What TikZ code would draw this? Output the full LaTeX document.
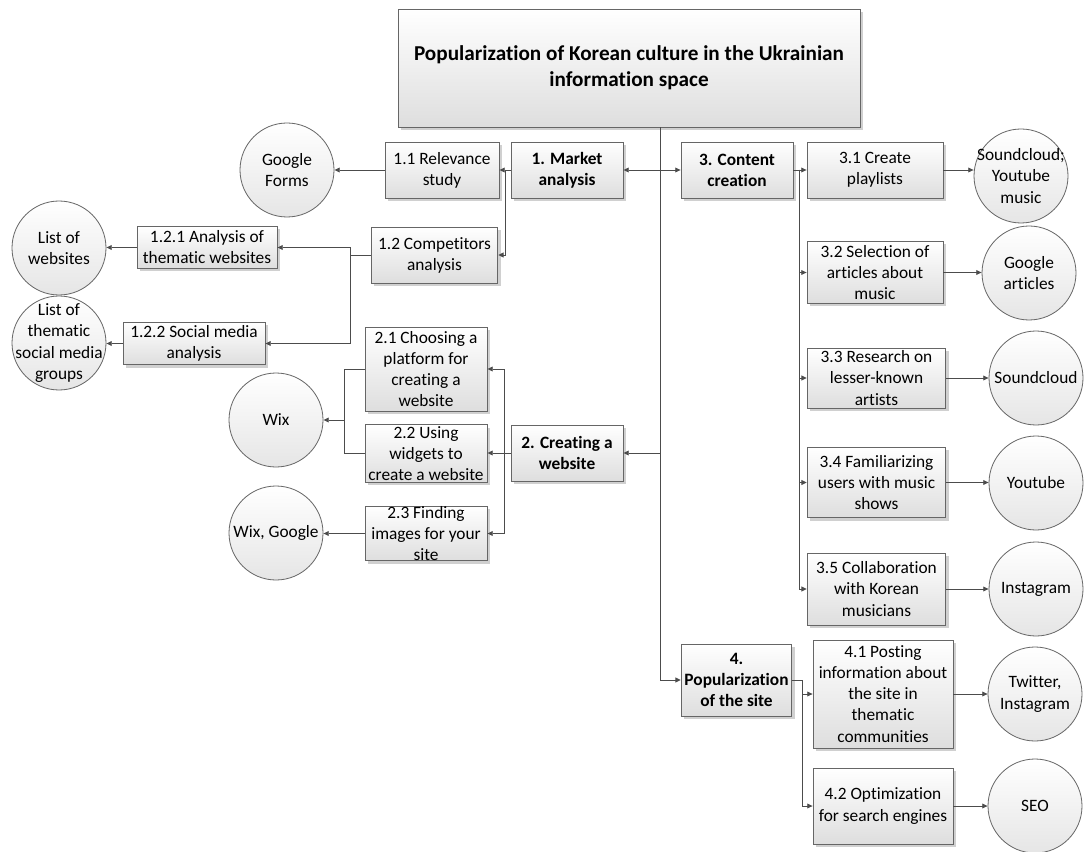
\documentclass[tikz,border=0pt]{standalone}
\usepackage{fontspec}
\setmainfont{Carlito}[Ligatures=NoCommon]
\usetikzlibrary{arrows.meta,shadows}
\tikzset{
  base/.style={draw=black!60, line width=0.6pt, top color=white, bottom color=black!13,
    align=center, inner sep=0pt, font=\fontsize{13}{15.8}\selectfont,
    drop shadow={shadow xshift=2pt, shadow yshift=-2pt, fill=black!30, opacity=0.6}},
  box/.style={base, rectangle},
  mbox/.style={box, font=\fontsize{13}{15.8}\selectfont\bfseries},
  btext/.style={align=center, font=\fontsize{13}{15.8}\selectfont, inner sep=0pt},
  circ/.style={draw=black!60, line width=0.6pt, circle, minimum size=70.5pt, inner sep=0pt,
    top color=white, bottom color=black!10},
  ctext/.style={align=center, font=\fontsize{13}{15.8}\selectfont, inner sep=0pt},
  conn/.style={draw=black!70, line width=0.7pt},
  arr/.style={conn, -{Triangle[length=4pt,width=3.6pt]}},
  arr2/.style={conn, {Triangle[length=4pt,width=3.6pt]}-{Triangle[length=4pt,width=3.6pt]}}
}
\begin{document}
\begin{tikzpicture}[x=0.75pt,y=-0.75pt]
\useasboundingbox[fill=white] (0,0) rectangle (1085,852);

% main title
\node[box, minimum width=346.5pt, minimum height=88.5pt, font=\fontsize{15.9}{19.5}\selectfont\bfseries] (title) at (629,68)
  {Popularization of Korean culture in the Ukrainian\\information space};

% level 1
\node[mbox, minimum width=84pt, minimum height=42pt] (m1) at (567,170) {1. Market\\analysis};
\node[mbox, minimum width=84pt, minimum height=42pt] (m3) at (737,170) {3. Content\\creation};
\node[mbox, minimum width=84pt, minimum height=42pt] (m2) at (567,453) {2. Creating a\\website};
\node[mbox, minimum width=83pt, minimum height=54pt] (m4) at (736.5,680) {4.\\Popularization\\of the site};

% branch 1
\node[box, minimum width=85.5pt, minimum height=42pt] (b11) at (442,170) {1.1 Relevance\\study};
\node[box, minimum width=95pt, minimum height=42pt] (b12) at (434.5,255) {1.2 Competitors\\analysis};
\node[box, minimum width=105pt, minimum height=31pt] (b121) at (207,247.5) {1.2.1 Analysis of\\thematic websites};
\node[box, minimum width=106.5pt, minimum height=32pt] (b122) at (194,343.5) {1.2.2 Social media\\analysis};

% branch 2
\node[box, minimum width=91.5pt, minimum height=63pt, label={[btext]center:2.1 Choosing a\\platform for\\creating a\\website}] (b21) at (426,369) {};
\node[box, minimum width=91.5pt, minimum height=43pt, label={[btext]center:2.2 Using\\widgets to\\create a website}] (b22) at (426,453.5) {};
\node[box, minimum width=91.5pt, minimum height=41pt, label={[btext]center:2.3 Finding\\images for your\\site}] (b23) at (426,533.5) {};

% branch 3
\node[box, minimum width=102pt, minimum height=42pt] (b31) at (875,170) {3.1 Create\\playlists};
\node[box, minimum width=102pt, minimum height=46pt, label={[btext]center:3.2 Selection of\\articles about\\music}] (b32) at (875,272.5) {};
\node[box, minimum width=104pt, minimum height=45pt, label={[btext]center:3.3 Research on\\lesser-known\\artists}] (b33) at (876.5,378) {};
\node[box, minimum width=104pt, minimum height=53pt] (b34) at (876.5,482.5) {3.4 Familiarizing\\users with music\\shows};
\node[box, minimum width=104pt, minimum height=54pt] (b35) at (876.5,589) {3.5 Collaboration\\with Korean\\musicians};

% branch 4
\node[box, minimum width=105pt, minimum height=81pt] (b41) at (883,694) {4.1 Posting\\information about\\the site in\\thematic\\communities};
\node[box, minimum width=105pt, minimum height=57pt] (b42) at (883,806) {4.2 Optimization\\for search engines};

% tools (circles)
\node[circ, label={[ctext]center:Google\\Forms}] (cGF) at (287,170) {};
\node[circ, label={[ctext]center:List of\\websites}] (cLW) at (59,248) {};
\node[circ, label={[ctext]center:List of\\thematic\\social media\\groups}] (cLS) at (59,343) {};
\node[circ, label={[ctext]center:Wix}] (cWix) at (276,420) {};
\node[circ, label={[ctext]center:Wix, Google}] (cWG) at (276,533) {};
\node[circ, label={[ctext]center:Soundcloud;\\Youtube\\music}] (cSY) at (1021,176) {};
\node[circ, label={[ctext]center:Google\\articles}] (cGA) at (1029,273) {};
\node[circ, label={[ctext]center:Soundcloud}] (cSC) at (1036,378) {};
\node[circ, label={[ctext]center:Youtube}] (cYT) at (1036,483) {};
\node[circ, label={[ctext]center:Instagram}] (cIG) at (1036,589) {};
\node[circ, label={[ctext]center:Twitter,\\Instagram}] (cTI) at (1035,694) {};
\node[circ, label={[ctext]center:SEO}] (cSEO) at (1035,806) {};

% junction coordinates
\coordinate (spine) at (660,0);
\coordinate (j1) at (505,170);
\coordinate (j12) at (350,255);
\coordinate (j2) at (504,453);
\coordinate (jw) at (344,420);
\coordinate (j3) at (799,170);
\coordinate (j4) at (802,680);

% connectors
\draw[arr] (title.south -| spine) |- (m4.west);
\draw[arr2] (m1.east) -- (m3.west);
\draw[arr] (m2.east -| spine) -- (m2.east);

\draw[arr] (m1.west) -- (b11.east);
\draw[arr] (j1) |- (b12.east);
\draw[arr] (b11.west) -- (b11.west -| cGF.east);
\draw[conn] (b12.west) -- (j12);
\draw[arr] (j12) |- (b121.east);
\draw[arr] (j12) |- (b122.east);
\draw[arr] (b121.west) -- (b121.west -| cLW.east);
\draw[arr] (b122.west) -- (b122.west -| cLS.east);

\draw[conn] (m2.west) -- (j2);
\draw[arr] (j2) |- (b21.east);
\draw[arr] (j2) -- (b22.east |- j2);
\draw[arr] (j2) |- (b23.east);
\draw[conn] (b21.west) -| (jw);
\draw[conn] (b22.west) -| (jw);
\draw[arr] (jw) -- (cWix.east);
\draw[arr] (b23.west) -- (b23.west -| cWG.east);

\draw[conn] (m3.east) -- (j3);
\draw[arr] (j3) -- (b31.west);
\draw[arr] (j3) |- (b32.west);
\draw[arr] (j3) |- (b33.west);
\draw[arr] (j3) |- (b34.west);
\draw[arr] (j3) |- (b35.west);
\draw[arr] (b31.east) -- (b31.east -| cSY.west);
\draw[arr] (b32.east) -- (b32.east -| cGA.west);
\draw[arr] (b33.east) -- (b33.east -| cSC.west);
\draw[arr] (b34.east) -- (b34.east -| cYT.west);
\draw[arr] (b35.east) -- (b35.east -| cIG.west);

\draw[conn] (m4.east) -- (j4);
\draw[arr] (j4) |- (b41.west);
\draw[arr] (j4) |- (b42.west);
\draw[arr] (b41.east) -- (b41.east -| cTI.west);
\draw[arr] (b42.east) -- (b42.east -| cSEO.west);
\end{tikzpicture}
\end{document}
